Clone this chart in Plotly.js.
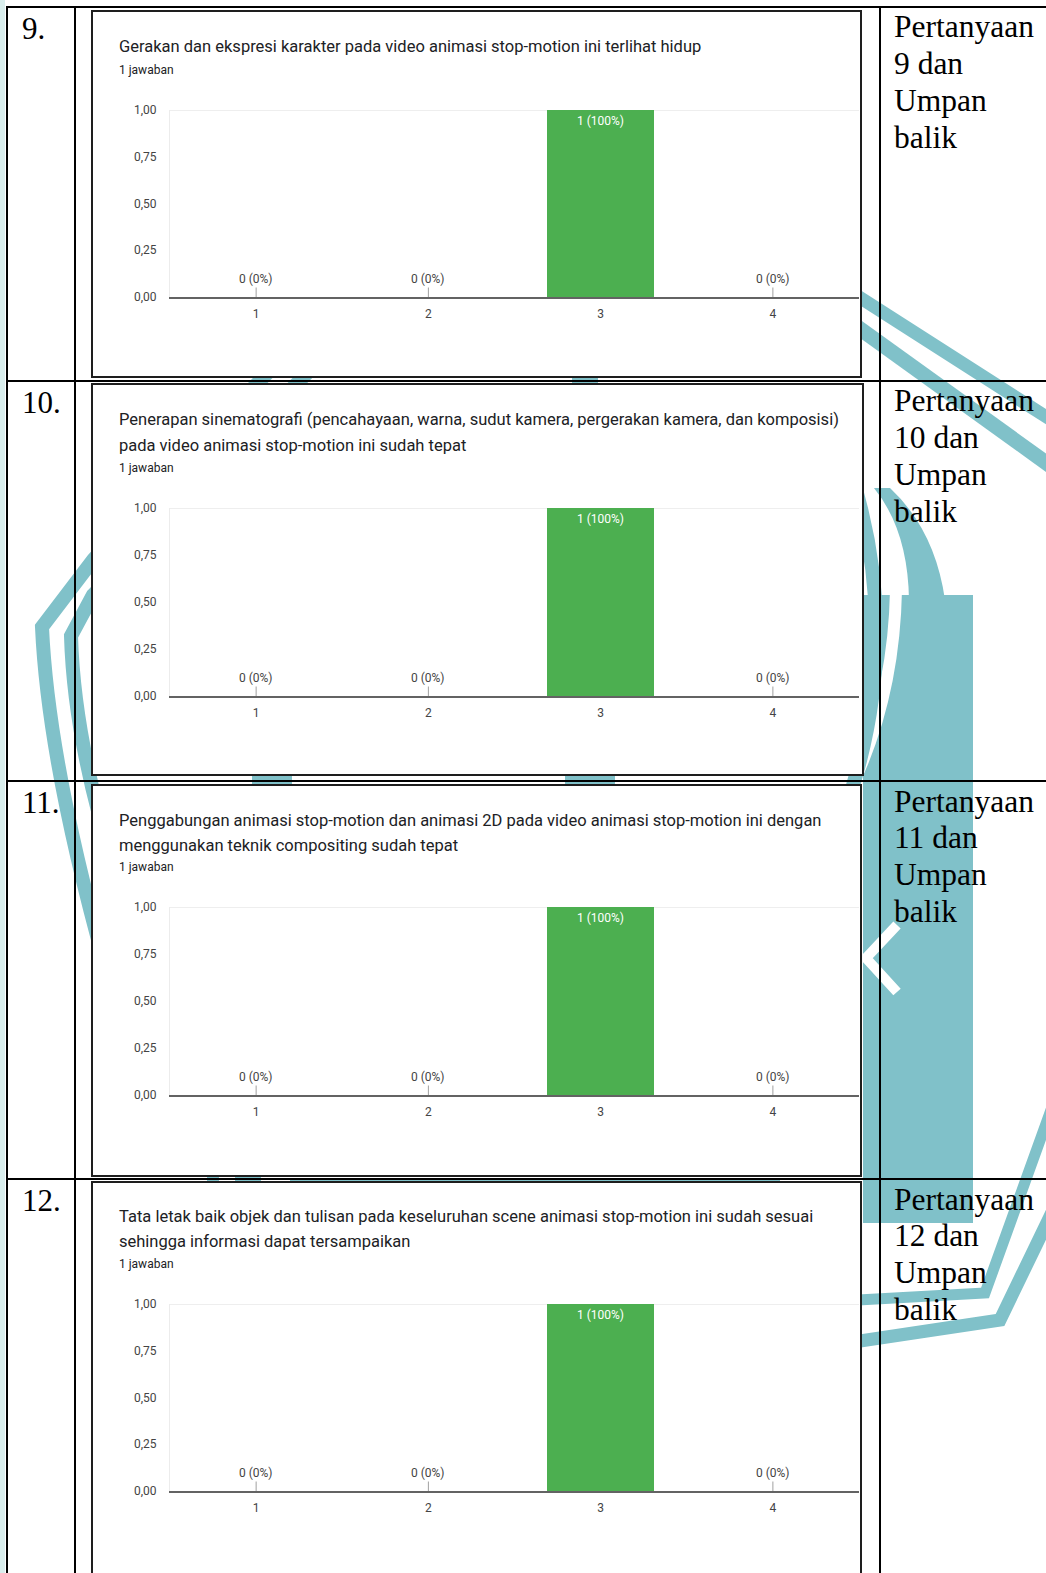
<!DOCTYPE html>
<html>
<head>
<meta charset="utf-8">
<script src="https://cdn.plot.ly/plotly-3.0.1.min.js"></script>
<style>
  html, body { margin: 0; padding: 0; background: #ffffff; }
  #chart { width: 1046px; height: 1573px; }
</style>
</head>
<body>
<div id="chart"></div>
<script>
// Page size in pixels
const W = 1046, H = 1573;

// ---- Data -------------------------------------------------------------
const scaleLabels = ['1', '2', '3', '4'];

const countsQ9  = [0, 0, 1, 0];
const countsQ10 = [0, 0, 1, 0];
const countsQ11 = [0, 0, 1, 0];
const countsQ12 = [0, 0, 1, 0];

const questionNumbers = ['9.', '10.', '11.', '12.'];
const feedbackNumbers = ['9', '10', '11', '12'];

const titleQ9  = ['Gerakan dan ekspresi karakter pada video animasi stop-motion ini terlihat hidup'];
const titleQ10 = ['Penerapan sinematografi (pencahayaan, warna, sudut kamera, pergerakan kamera, dan komposisi)',
                  'pada video animasi stop-motion ini sudah tepat'];
const titleQ11 = ['Penggabungan animasi stop-motion dan animasi 2D pada video animasi stop-motion ini dengan',
                  'menggunakan teknik compositing sudah tepat'];
const titleQ12 = ['Tata letak baik objek dan tulisan pada keseluruhan scene animasi stop-motion ini sudah sesuai',
                  'sehingga informasi dapat tersampaikan'];

const yTickVals = [0, 0.25, 0.5, 0.75, 1];
const yTickText = ['0,00', '0,25', '0,50', '0,75', '1,00'];

const allCounts = [countsQ9, countsQ10, countsQ11, countsQ12];
const allTitles = [titleQ9, titleQ10, titleQ11, titleQ12];

// ---- Page geometry (pixels) ------------------------------------------
const PLOT_L = 170, PLOT_R = 859;
const panels = [
  { box: [92, 11, 861, 377],    rowTop: 7,    titleY: [47],         jawabanY: 70,   plotTop: 110,  plotBottom: 297 },
  { box: [92, 384, 863, 775],   rowTop: 381,  titleY: [420, 445],   jawabanY: 468,  plotTop: 508,  plotBottom: 696 },
  { box: [92, 785, 861, 1176],  rowTop: 781,  titleY: [820, 845],   jawabanY: 867,  plotTop: 907,  plotBottom: 1095 },
  { box: [92, 1182, 861, 1600], rowTop: 1179, titleY: [1216, 1241], jawabanY: 1264, plotTop: 1304, plotBottom: 1491 }
];

const TEAL = '#80c1c9';
const GREEN = '#4caf50';
const SERIF = 'Liberation Serif, Times New Roman, serif';
const SANS = 'Roboto, Arial, sans-serif';

const px = x => x / W;
const py = y => 1 - y / H;
const pt = (x, y) => px(x).toFixed(5) + ',' + py(y).toFixed(5);
const path = segs => segs.map(s => typeof s === 'string' ? s : pt(s[0], s[1])).join(' ');

const stroke = (segs, width, color) => ({
  type: 'path', xref: 'paper', yref: 'paper', layer: 'below',
  path: path(segs), fillcolor: 'rgba(0,0,0,0)',
  line: { color: color || TEAL, width: width }
});
const fillShape = (segs, color) => ({
  type: 'path', xref: 'paper', yref: 'paper', layer: 'below',
  path: path(segs), fillcolor: color || TEAL, line: { width: 0 }
});
const rectPx = (x0, y0, x1, y1, fill, lineColor, lineWidth) => ({
  type: 'rect', xref: 'paper', yref: 'paper', layer: 'below',
  x0: px(x0), x1: px(x1), y0: py(y1), y1: py(y0),
  fillcolor: fill, line: { color: lineColor || 'rgba(0,0,0,0)', width: lineWidth || 0 }
});
const linePx = (x0, y0, x1, y1, width, color) => ({
  type: 'line', xref: 'paper', yref: 'paper', layer: 'below',
  x0: px(x0), x1: px(x1), y0: py(y0), y1: py(y1),
  line: { color: color || '#000000', width: width }
});

// ---- Background watermark -------------------------------------------
const shapes = [];
shapes.push(rectPx(0, 0, 5, H, '#d9eeed'));

// left double outline
shapes.push(stroke(['M', [310, 330], 'Q', [200, 440], [93, 560], 'L', [42, 627], 'Q', [48, 760], [105, 965]], 14));
shapes.push(stroke(['M', [350, 330], 'Q', [240, 440], [93, 595], 'L', [71, 636], 'Q', [74, 740], [115, 870]], 14));

// upper right double outline
shapes.push(stroke(['M', [820, 272], 'L', [1070, 432]], 13));
shapes.push(stroke(['M', [820, 300], 'L', [1070, 480]], 15));

// lower right double outline
shapes.push(stroke(['M', [1060, 1085], 'L', [985, 1293], 'L', [840, 1301]], 11));
shapes.push(stroke(['M', [1070, 1175], 'L', [1000, 1320], 'L', [840, 1344]], 13));

// letter forms on the right
shapes.push(fillShape(['M', [863, 595], 'L', [973, 595], 'L', [973, 1223], 'L', [863, 1223], 'Z']));
shapes.push(fillShape(['M', [874, 488], 'Q', [908, 530], [909, 600], 'L', [945, 600], 'Q', [935, 530], [890, 488], 'Z']));
shapes.push(stroke(['M', [896, 590], 'Q', [894, 700], [850, 790]], 12, '#ffffff'));
shapes.push(stroke(['M', [850, 470], 'Q', [905, 640], [845, 810]], 14));
shapes.push(stroke(['M', [897, 925], 'L', [866, 958], 'L', [897, 992]], 10, '#ffffff'));

// pieces crossing the gaps between the chart cards
shapes.push(stroke(['M', [585, 368], 'L', [585, 396]], 26));
shapes.push(stroke(['M', [272, 768], 'L', [272, 794]], 40));
shapes.push(stroke(['M', [590, 768], 'L', [590, 794]], 50));
shapes.push(stroke(['M', [213, 1168], 'L', [213, 1192]], 12));
shapes.push(stroke(['M', [248, 1168], 'L', [248, 1192]], 26));
shapes.push(stroke(['M', [290, 1181], 'L', [780, 1181]], 3));

// ---- Chart cards (white with dark border) ----------------------------
panels.forEach(p => {
  shapes.push(rectPx(p.box[0], p.box[1], p.box[2], p.box[3], '#ffffff', '#1e1e1e', 2));
});

// ---- Table rules -------------------------------------------------------
shapes.push(linePx(7, 7, W + 2, 7, 2));
panels.slice(1).forEach(p => shapes.push(linePx(7, p.rowTop, W + 2, p.rowTop, 2)));
shapes.push(linePx(7, 6, 7, H + 2, 2));
shapes.push(linePx(75, 6, 75, H + 2, 2));
shapes.push(linePx(880, 6, 880, H + 2, 2));

// ---- Charts ------------------------------------------------------------
const traces = [];
const annotations = [];
const layout = {
  width: W, height: H,
  margin: { l: 0, r: 0, t: 0, b: 0 },
  paper_bgcolor: '#ffffff',
  plot_bgcolor: 'rgba(0,0,0,0)',
  showlegend: false,
  font: { family: SANS, color: '#444444' },
  bargap: 0,
  shapes: shapes,
  annotations: annotations
};

panels.forEach((p, i) => {
  const n = i === 0 ? '' : String(i + 1);
  const xr = 'x' + n, yr = 'y' + n;
  const counts = allCounts[i];
  const total = counts.reduce((a, b) => a + b, 0);

  layout['xaxis' + n] = {
    domain: [px(PLOT_L), px(PLOT_R)], anchor: yr,
    type: 'category', range: [-0.5, 3.5],
    showgrid: false, zeroline: false,
    showline: true, linecolor: '#636363', linewidth: 2,
    ticks: 'outside', ticklen: 5, tickcolor: 'rgba(0,0,0,0)',
    tickfont: { family: SANS, size: 12, color: '#444444' },
    fixedrange: true
  };
  layout['yaxis' + n] = {
    domain: [py(p.plotBottom), py(p.plotTop)], anchor: xr,
    range: [0, 1],
    tickvals: yTickVals, ticktext: yTickText,
    showgrid: false, zeroline: false,
    showline: true, linecolor: '#ececec', linewidth: 1,
    ticks: 'outside', ticklen: 10, tickcolor: 'rgba(0,0,0,0)',
    tickfont: { family: SANS, size: 12, color: '#444444' },
    fixedrange: true
  };

  traces.push({
    type: 'bar', x: scaleLabels, y: counts,
    xaxis: xr, yaxis: yr,
    width: 0.62,
    marker: { color: GREEN, line: { width: 0 } },
    hoverinfo: 'skip'
  });

  // top gridline
  shapes.push({
    type: 'line', xref: xr, yref: yr, layer: 'below',
    x0: -0.5, x1: 3.5, y0: 1, y1: 1,
    line: { color: '#e9e9e9', width: 1.5 }
  });

  // value labels
  counts.forEach((c, j) => {
    const pct = total ? Math.round(c / total * 100) : 0;
    const txt = c + ' (' + pct + '%)';
    if (c === 0) {
      annotations.push({
        xref: xr, yref: yr, x: j, y: c,
        text: txt, showarrow: true, arrowhead: 0, arrowwidth: 1,
        arrowcolor: '#a0a0a0', ax: 0, ay: -18, standoff: 0,
        font: { family: SANS, size: 12, color: '#444444' }
      });
    } else {
      annotations.push({
        xref: xr, yref: yr, x: j, y: c,
        yanchor: 'top', yshift: -2, showarrow: false,
        text: txt, font: { family: SANS, size: 12, color: '#ffffff' }
      });
    }
  });

  // question text
  allTitles[i].forEach((line, k) => {
    annotations.push({
      xref: 'paper', yref: 'paper', x: px(117), y: py(p.titleY[k]),
      xanchor: 'left', yanchor: 'middle', showarrow: false,
      text: line, font: { family: SANS, size: 16.5, color: '#202124' }
    });
  });
  annotations.push({
    xref: 'paper', yref: 'paper', x: px(117), y: py(p.jawabanY),
    xanchor: 'left', yanchor: 'middle', showarrow: false,
    text: total + ' jawaban', font: { family: SANS, size: 12, color: '#202124' }
  });

  // table cells: number and description
  annotations.push({
    xref: 'paper', yref: 'paper', x: px(20), y: py(p.rowTop + 21),
    xanchor: 'left', yanchor: 'middle', showarrow: false,
    text: questionNumbers[i], font: { family: SERIF, size: 31, color: '#000000' }
  });
  const cellLines = ['Pertanyaan', feedbackNumbers[i] + ' dan', 'Umpan', 'balik'];
  cellLines.forEach((line, k) => {
    annotations.push({
      xref: 'paper', yref: 'paper', x: px(892), y: py(p.rowTop + 20 + k * 36.7),
      xanchor: 'left', yanchor: 'middle', showarrow: false,
      text: line, font: { family: SERIF, size: 31.5, color: '#000000' }
    });
  });
});

Plotly.newPlot('chart', traces, layout, { displayModeBar: false, staticPlot: true });
</script>
</body>
</html>
